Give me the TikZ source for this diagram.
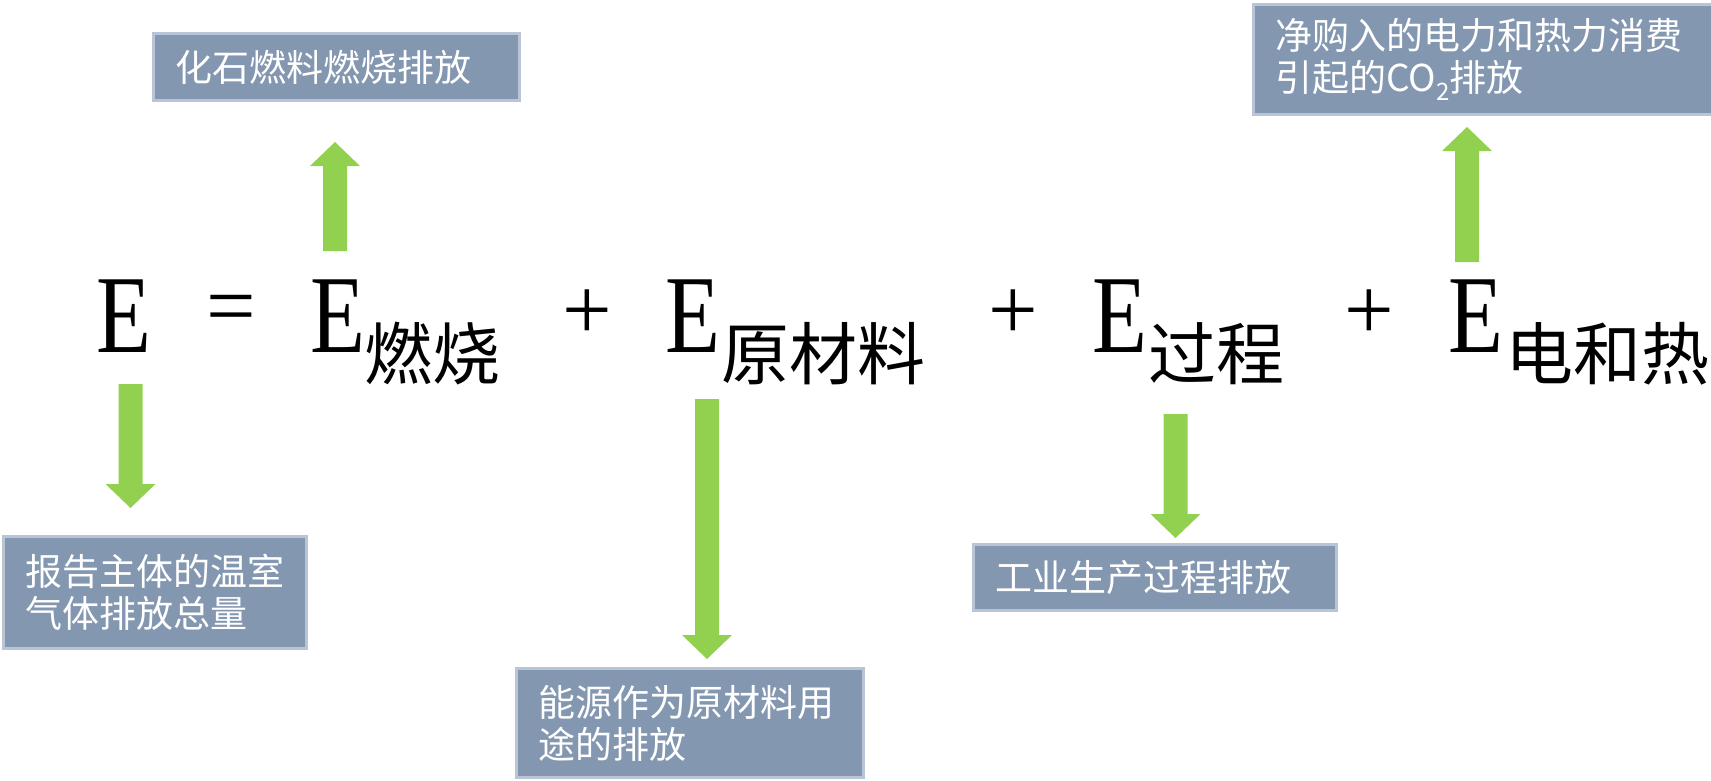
\documentclass[tikz,border=0pt]{standalone}
\usepackage{fontspec}
\usepackage{graphicx}
\newfontfamily\cjk{Noto Sans CJK SC}
\newfontfamily\lserif{Liberation Serif}
\definecolor{boxfill}{HTML}{8497B0}
\definecolor{boxline}{HTML}{B9C4D6}
\definecolor{arrgreen}{HTML}{92D050}
\newcommand\uparr[3]{\fill[arrowfill] (#1-12,#2) -- (#1-12,#3+24) -- (#1-25,#3+24) -- (#1,#3) -- (#1+25,#3+24) -- (#1+12,#3+24) -- (#1+12,#2) -- cycle;}
\newcommand\downarr[3]{\fill[arrowfill] (#1-12,#2) -- (#1-12,#3-24) -- (#1-25,#3-24) -- (#1,#3) -- (#1+25,#3-24) -- (#1+12,#3-24) -- (#1+12,#2) -- cycle;}
\begin{document}
\begin{tikzpicture}[x=1pt,y=-1pt,
  arrowfill/.style={fill=arrgreen},
  infobox/.style={draw=boxline, line width=3pt, fill=boxfill, text=white, anchor=north west,
    font=\cjk\fontsize{37}{42}\selectfont, align=left, inner xsep=22pt, inner ysep=0pt},
  bigE/.style={font=\lserif\fontsize{111}{111}\selectfont, inner sep=0pt, anchor=center},
  opsym/.style={font=\lserif\fontsize{88}{88}\selectfont, inner sep=0pt, anchor=center},
  subtxt/.style={font=\cjk\fontsize{68}{68}\selectfont, inner sep=0pt, anchor=west}]
\useasboundingbox (0,0) rectangle (1711,780);
% formula
\node[bigE] (E0) at (123.5,316) {\scalebox{0.81}[1]{E}};
\node[opsym] (eq) at (231,315) {=};
\node[bigE] (E1) at (337.5,316) {\scalebox{0.81}[1]{E}};
\node[subtxt] (s1) at (364,354) {燃烧};
\node[opsym] (p1) at (587,315) {+};
\node[bigE] (E2) at (693,316) {\scalebox{0.81}[1]{E}};
\node[subtxt] (s2) at (721,354) {原材料};
\node[opsym] (p2) at (1013.5,315) {+};
\node[bigE] (E3) at (1119.5,316) {\scalebox{0.81}[1]{E}};
\node[subtxt] (s3) at (1148,354) {过程};
\node[opsym] (p3) at (1369,315) {+};
\node[bigE] (E4) at (1476,316) {\scalebox{0.81}[1]{E}};
\node[subtxt] (s4) at (1505,354) {电和热};
% boxes
\node[infobox, minimum width=366pt, minimum height=67pt, text width=322pt] (bA) at (152,32) {化石燃料燃烧排放};
\node[infobox, minimum width=303pt, minimum height=112pt, text width=259pt] (bB) at (2,535) {报告主体的温室\\气体排放总量};
\node[infobox, minimum width=347pt, minimum height=109pt, text width=303pt] (bC) at (515,667) {能源作为原材料用\\途的排放};
\node[infobox, minimum width=363pt, minimum height=66pt, text width=319pt] (bD) at (972,543) {工业生产过程排放};
\node[infobox, minimum width=461pt, minimum height=110pt, text width=417pt] (bE) at (1252,3) {净购入的电力和热力消费\\引起的CO\raisebox{-0.25em}{\fontsize{24}{24}\selectfont 2}排放};
% block arrows
\uparr{335}{251}{142}
\downarr{130.5}{384}{508}
\downarr{707}{399}{659}
\downarr{1175.5}{414}{538}
\uparr{1467}{262}{127}
\end{tikzpicture}
\end{document}
